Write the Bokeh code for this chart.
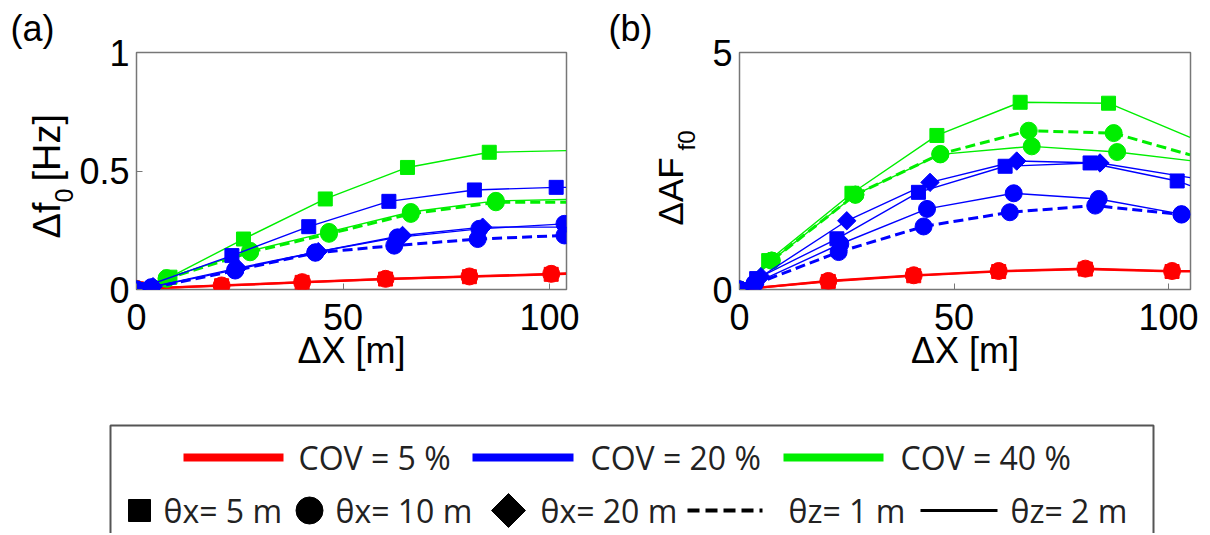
import numpy as np
from bokeh.plotting import figure
from bokeh.layouts import column, row
from bokeh.models import Range1d, FixedTicker
from bokeh.embed import file_html
from bokeh.resources import INLINE
from bokeh.core.properties import value

RED = "#ff0000"
BLUE = "#0000ff"
GREEN = "#00ee00"

X_TICKS = [0, 50, 100]
X_TICK_LABELS = ["0", "50", "100"]

# ---------------- panel (a): delta f0 [Hz] ----------------
# last point of each series = where the curve meets the box edge
A_YTICKS = [0, 0.5, 1]
A_YLABELS = ["0", "0.5", "1"]

A_R_SQ_X = [0, 20.6, 40.1, 60.3, 80.6, 100.4, 104]
A_R_SQ_Y = [0.003, 0.016, 0.030, 0.044, 0.054, 0.064, 0.066]
A_R_CI_X = [0, 20.6, 40.1, 60.3, 80.6, 100.4, 104]
A_R_CI_Y = [0.003, 0.017, 0.031, 0.045, 0.055, 0.066, 0.068]

A_G_SQ_X = [0, 8.1, 25.9, 45.7, 65.6, 85.4, 104]
A_G_SQ_Y = [0, 0.052, 0.213, 0.382, 0.515, 0.579, 0.586]
A_G_CI_D_X = [0, 7.3, 27.5, 46.6, 66.4, 87.0, 104]
A_G_CI_D_Y = [0, 0.045, 0.157, 0.235, 0.319, 0.368, 0.368]
A_G_CI_S_X = [0, 7.3, 27.5, 46.6, 66.4, 87.0, 104]
A_G_CI_S_Y = [0, 0.048, 0.163, 0.243, 0.327, 0.374, 0.380]

A_B_SQ_X = [0, 23.1, 41.7, 61.1, 81.8, 101.6, 104]
A_B_SQ_Y = [0, 0.143, 0.265, 0.372, 0.420, 0.431, 0.431]
A_B_DI_X = [0, 4.0, 24.5, 44.0, 64.4, 83.8, 104]
A_B_DI_Y = [0, 0.012, 0.090, 0.160, 0.228, 0.263, 0.263]
A_B_CI_S_X = [0, 3.6, 23.9, 43.3, 63.2, 83.0, 103.6, 104]
A_B_CI_S_Y = [0, 0.010, 0.083, 0.157, 0.220, 0.256, 0.277, 0.277]
A_B_CI_D_X = [0, 3.6, 23.9, 43.3, 62.4, 82.6, 103.6, 104]
A_B_CI_D_Y = [0, 0.007, 0.080, 0.155, 0.185, 0.213, 0.228, 0.228]

# ---------------- panel (b): delta AF_f0 ----------------
B_YTICKS = [0, 5]
B_YLABELS = ["0", "5"]

B_R_SQ_X = [0, 20.7, 40.6, 60.4, 80.6, 100.8, 105]
B_R_SQ_Y = [0, 0.17, 0.29, 0.38, 0.43, 0.38, 0.38]
B_R_CI_X = [0, 20.7, 40.6, 60.4, 80.6, 100.8, 105]
B_R_CI_Y = [0, 0.18, 0.30, 0.39, 0.44, 0.39, 0.39]

B_G_SQ_X = [0, 6.8, 26.2, 46.0, 65.4, 86.0, 105]
B_G_SQ_Y = [0, 0.61, 2.03, 3.25, 3.95, 3.93, 3.21]
B_G_CI_D_X = [0, 7.5, 27.0, 46.8, 67.4, 87.2, 105]
B_G_CI_D_Y = [0, 0.61, 2.00, 2.86, 3.35, 3.30, 2.84]
B_G_CI_S_X = [0, 7.5, 27.0, 46.8, 68.1, 88.0, 105]
B_G_CI_S_Y = [0, 0.61, 2.00, 2.85, 3.02, 2.90, 2.72]

B_B_DI_X = [0, 5.0, 25.0, 44.4, 64.6, 84.0, 105]
B_B_DI_Y = [0, 0.27, 1.45, 2.26, 2.71, 2.67, 2.36]
B_B_SQ_X = [0, 4.0, 22.7, 41.7, 61.9, 81.7, 102.0, 105]
B_B_SQ_Y = [0, 0.23, 1.07, 2.05, 2.60, 2.67, 2.29, 2.19]
B_B_CI_S_X = [0, 3.5, 23.5, 43.7, 63.9, 83.7, 103.0, 105]
B_B_CI_S_Y = [0, 0.13, 0.96, 1.70, 2.03, 1.91, 1.59, 1.57]
B_B_CI_D_X = [0, 3.5, 23.1, 42.9, 63.0, 82.9, 103.0, 105]
B_B_CI_D_Y = [0, 0.11, 0.79, 1.33, 1.63, 1.77, 1.58, 1.56]

# legend texts
COV_LABELS = ["COV = 5 %", "COV = 20 %", "COV = 40 %"]
MARK_LABELS = ["θx= 5 m", "θx= 10 m", "θx= 20 m"]
DASH_LABELS = ["θz= 1 m", "θz= 2 m"]

SERIES_A = [
    (A_R_SQ_X, A_R_SQ_Y, RED, "square", "solid"),
    (A_R_CI_X, A_R_CI_Y, RED, "circle", "solid"),
    (A_G_SQ_X, A_G_SQ_Y, GREEN, "square", "solid"),
    (A_G_CI_S_X, A_G_CI_S_Y, GREEN, "circle", "solid"),
    (A_G_CI_D_X, A_G_CI_D_Y, GREEN, "circle", "dashed"),
    (A_B_SQ_X, A_B_SQ_Y, BLUE, "square", "solid"),
    (A_B_DI_X, A_B_DI_Y, BLUE, "diamond", "solid"),
    (A_B_CI_S_X, A_B_CI_S_Y, BLUE, "circle", "solid"),
    (A_B_CI_D_X, A_B_CI_D_Y, BLUE, "circle", "dashed"),
]
SERIES_B = [
    (B_R_SQ_X, B_R_SQ_Y, RED, "square", "solid"),
    (B_R_CI_X, B_R_CI_Y, RED, "circle", "solid"),
    (B_G_SQ_X, B_G_SQ_Y, GREEN, "square", "solid"),
    (B_G_CI_S_X, B_G_CI_S_Y, GREEN, "circle", "solid"),
    (B_G_CI_D_X, B_G_CI_D_Y, GREEN, "circle", "dashed"),
    (B_B_SQ_X, B_B_SQ_Y, BLUE, "square", "solid"),
    (B_B_DI_X, B_B_DI_Y, BLUE, "diamond", "solid"),
    (B_B_CI_S_X, B_B_CI_S_Y, BLUE, "circle", "solid"),
    (B_B_CI_D_X, B_B_CI_D_Y, BLUE, "circle", "dashed"),
]

AX_FONT = "Liberation Sans"
LEG_FONT = "Open Sans"
PANEL_H = 400
FRAME_TOP = 52       # page y of the plot box top
FRAME_BOTTOM = 289   # page y of the plot box bottom


def draw_series(p, series):
    for xs, ys, col, mk, dash in series:
        lw = 2.2 if col == RED else (3 if dash == "dashed" else 1.4)
        p.line(xs, ys, line_color=col, line_width=lw,
               line_dash="10 5" if dash == "dashed" else "solid")
        mx, my = xs[:-1], ys[:-1]
        if mk == "diamond":
            p.scatter(mx, my, marker="square", angle=np.pi / 4, size=13,
                      fill_color=col, line_color=col)
        elif mk == "square":
            p.scatter(mx, my, marker="square", size=14, fill_color=col, line_color=col)
        else:
            p.scatter(mx, my, marker="circle", size=17, fill_color=col, line_color=col)


def make_panel(width, bl, br, xmax, ymax, yticks, ylabels, series):
    p = figure(width=width, height=PANEL_H,
               x_range=Range1d(0, xmax), y_range=Range1d(0, ymax),
               min_border_left=bl, min_border_right=br,
               min_border_top=FRAME_TOP, min_border_bottom=PANEL_H - FRAME_BOTTOM,
               output_backend="svg", toolbar_location=None)
    p.grid.visible = False
    p.outline_line_color = "#777777"
    p.outline_line_width = 1.5
    p.background_fill_color = "white"
    p.border_fill_color = "white"
    p.xaxis.ticker = FixedTicker(ticks=X_TICKS)
    p.xaxis.major_label_overrides = {t: s for t, s in zip(X_TICKS, X_TICK_LABELS)}
    p.yaxis.ticker = FixedTicker(ticks=yticks)
    p.yaxis.major_label_overrides = {t: s for t, s in zip(yticks, ylabels)}
    for ax in (p.xaxis[0], p.yaxis[0]):
        ax.axis_line_color = None
        ax.major_tick_in = 6
        ax.major_tick_out = 0
        ax.major_tick_line_color = "#777777"
        ax.minor_tick_line_color = None
        ax.major_label_text_font = AX_FONT
        ax.major_label_text_font_size = "36px"
        ax.major_label_text_color = "black"
    p.xaxis.major_label_standoff = 14
    p.yaxis.major_label_standoff = 7
    p.xaxis.axis_label = "ΔX [m]"
    p.xaxis.axis_label_text_font = AX_FONT
    p.xaxis.axis_label_text_font_size = "36px"
    p.xaxis.axis_label_text_font_style = "normal"
    p.xaxis.axis_label_text_color = "black"
    p.xaxis.axis_label_standoff = -3
    draw_series(p, series)
    return p


def make_label_strip(x0, x1, tag, tag_offset):
    # narrow strip whose data coordinates are page pixels (y downward);
    # its plot box spans the same rows as the panels' plot boxes
    s = figure(width=x1 - x0, height=PANEL_H, x_range=Range1d(x0, x1),
               y_range=Range1d(FRAME_BOTTOM, FRAME_TOP),
               x_axis_type=None, y_axis_type=None,
               min_border_left=0, min_border_right=0,
               min_border_top=FRAME_TOP, min_border_bottom=PANEL_H - FRAME_BOTTOM,
               output_backend="svg", toolbar_location=None)
    s.grid.visible = False
    s.outline_line_color = None
    s.title.text = tag
    s.title.align = "left"
    s.title.offset = tag_offset
    s.title.standoff = 8
    s.title.text_font = AX_FONT
    s.title.text_font_size = "36px"
    s.title.text_font_style = "normal"
    s.title.text_color = "black"
    return s


def put_text(s, x, y, text, size, angle=0.0, baseline="alphabetic"):
    s.text(x=[x], y=[y], text=[text], angle=angle, text_font=value(AX_FONT),
           text_font_size=size, text_align="left", text_baseline=baseline,
           text_color="black")


# left label strip of panel (a): page x 0..76
la = make_label_strip(0, 76, "(a)", 10)
put_text(la, 46, 238, "Δf", "38px", angle=np.pi / 2)
put_text(la, 63, 202, "0", "25px", angle=np.pi / 2)
put_text(la, 46, 181, "[Hz]", "38px", angle=np.pi / 2)

# panel a: page x 76..608, frame 135..566
pa = make_panel(532, 59, 42, 104.1, 1, A_YTICKS, A_YLABELS, SERIES_A)

# left label strip of panel (b): page x 608..700
lb = make_label_strip(608, 700, "(b)", 0)
put_text(lb, 670, 225, "ΔAF", "35px", angle=np.pi / 2)
put_text(lb, 686, 150, "f0", "24px", angle=np.pi / 2)

# panel b: page x 700..1202, frame 739..1190
pb = make_panel(502, 39, 12, 105.1, 5, B_YTICKS, B_YLABELS, SERIES_B)

# ---------------- legend box (page pixel coordinates) ----------------
leg = figure(width=1202, height=133, x_range=Range1d(0, 1202), y_range=Range1d(533, 400),
             x_axis_type=None, y_axis_type=None, min_border=0,
             output_backend="svg", toolbar_location=None)
leg.grid.visible = False
leg.outline_line_color = None
leg.quad(left=[110], right=[1153], top=[425], bottom=[560],
         fill_color=None, line_color="#555555", line_width=2)

R1 = 457
R2 = 510
leg.segment(x0=[183, 472, 783], y0=[R1] * 3, x1=[283, 573, 883], y1=[R1] * 3,
            line_color=[RED, BLUE, GREEN], line_width=8)
leg.text(x=[298, 590, 900], y=[R1] * 3, text=COV_LABELS,
         text_font=value(LEG_FONT), text_font_size="32px",
         text_baseline="middle", text_align="left", text_color="#222222")

leg.scatter([139], [R2], marker="square", size=22, color="black")
leg.scatter([309], [R2], marker="circle", size=27, color="black")
leg.scatter([508], [R2], marker="square", angle=np.pi / 4, size=24, color="black")
leg.segment(x0=[687], y0=[R2], x1=[762], y1=[R2], line_color="black",
            line_width=4, line_dash="12 6")
leg.segment(x0=[920], y0=[R2], x1=[997], y1=[R2], line_color="black", line_width=3)
leg.text(x=[163, 335, 540, 788, 1010], y=[R2] * 5, text=MARK_LABELS + DASH_LABELS,
         text_font=value(LEG_FONT), text_font_size="32px",
         text_baseline="middle", text_align="left", text_color="#222222")

layout = column(row(la, pa, lb, pb), leg)
open("out.html", "w").write(file_html(layout, INLINE))
